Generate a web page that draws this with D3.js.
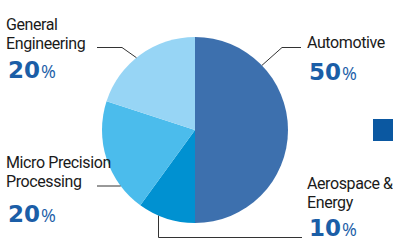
<!DOCTYPE html>
<html>
<head>
<meta charset="utf-8">
<script src="https://cdn.jsdelivr.net/npm/d3@7"></script>
<style>
  body { margin: 0; background: #fff; }
  svg { display: block; font-family: Roboto, "Open Sans", sans-serif; }
</style>
</head>
<body>
<div id="chart"></div>
<script>
// dados do gráfico
const categories = ["Automotive", "Aerospace & Energy", "Micro Precision Processing", "General Engineering"];
const values = [50, 10, 20, 20];
const labelLines = [["Automotive"], ["Aerospace &", "Energy"], ["Micro Precision", "Processing"], ["General", "Engineering"]];
const percentLabels = ["50", "10", "20", "20"];

// estilos / layout
const sliceColors = ["#3d70ae", "#0091d1", "#4bbcec", "#97d5f5"];
const W = 393, H = 244;
const cx = 195, cy = 130, R = 93;

const svg = d3.select("#chart").append("svg")
  .attr("width", W)
  .attr("height", H);

const pie = d3.pie().sort(null).value(d => d);
const arc = d3.arc().innerRadius(0).outerRadius(R);
const arcs = pie(values);

const gPie = svg.append("g").attr("transform", `translate(${cx},${cy})`);
gPie.selectAll("path").data(arcs)
  .enter()
  .append("path")
  .attr("d", arc)
  .attr("fill", (d, i) => sliceColors[i]);

// linhas de chamada: ângulo no bordo (graus), depois pontos fixos
const leaders = [
  { angle: 46, pts: [[282, 47.5], [301, 47.5]] },
  { angle: 203, pts: [[158.5, 237.5], [302, 237.5]] },
  { angle: 233, pts: [[97, 186]] },
  { angle: 321, pts: [[122, 47.5], [97, 47.5]] }
];

const line = d3.line();
leaders.forEach((l, i) => {
  const p = d3.pointRadial(l.angle * Math.PI / 180, R);
  let start = [cx + p[0], cy + p[1]];
  if (i === 1) start = [158.5, cy + p[1]];
  if (i === 2) start = [cx + p[0], 186];
  svg.append("path")
    .attr("d", line([start, ...l.pts]))
    .attr("fill", "none")
    .attr("stroke", "#333")
    .attr("stroke-width", 1);
});

// posições dos rótulos
const labelPos = [
  { x: 307, y: 48, py: 80 },
  { x: 307, y: 189, py: 236 },
  { x: 6, y: 168, py: 222 },
  { x: 6, y: 30, py: 78 }
];

labelPos.forEach((p, i) => {
  const t = svg.append("text")
    .attr("x", p.x)
    .attr("y", p.y)
    .attr("fill", "#1a1a1a")
    .style("font-size", "16px")
    .style("letter-spacing", "-0.4px");
  labelLines[i].forEach((s, j) => {
    t.append("tspan").attr("x", p.x).attr("dy", j === 0 ? 0 : 18.5).text(s);
  });
  const pt = svg.append("text")
    .attr("x", p.x + 2)
    .attr("y", p.py)
    .attr("fill", "#1b5ea7");
  pt.append("tspan")
    .style("font-family", "'DejaVu Sans', sans-serif")
    .style("font-size", "23px")
    .style("font-weight", "bold")
    .text(percentLabels[i]);
  pt.append("tspan")
    .style("font-family", "'Open Sans', sans-serif")
    .style("font-size", "18px")
    .attr("dx", 1)
    .text("%");
});

// quadrado de legenda (cortado à direita)
svg.append("rect")
  .attr("x", 373)
  .attr("y", 119)
  .attr("width", 24)
  .attr("height", 22)
  .attr("fill", "#0b58a1");
</script>
</body>
</html>
